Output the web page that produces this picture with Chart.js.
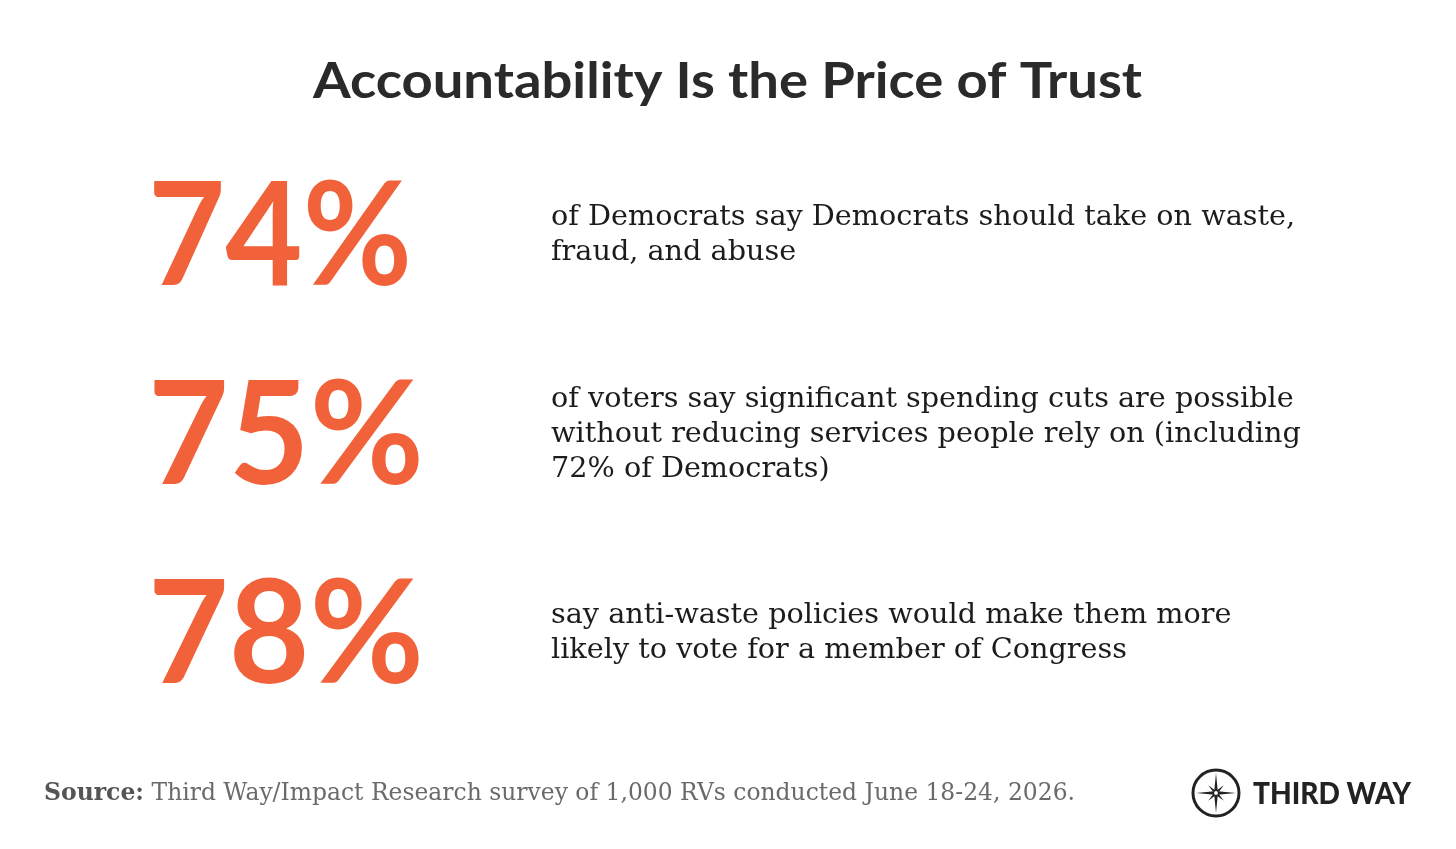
<!DOCTYPE html>
<html>
<head>
<meta charset="utf-8">
<script src="https://cdn.jsdelivr.net/npm/chart.js@4.4.1/dist/chart.umd.min.js"></script>
<style>
  html, body { margin: 0; padding: 0; background: #fff; }
  #wrap { width: 1456px; height: 849px; position: relative; }
</style>
</head>
<body>
<div id="wrap"><canvas id="statChart"></canvas></div>
<script>
// data
const statLabels = ['Democrats: take on waste', 'Voters: cuts possible', 'Anti-waste policies'];
const statValues = [74, 75, 78];
const statText = [
    ['of Democrats say Democrats should take on waste,', 'fraud, and abuse'],
    ['of voters say significant spending cuts are possible', 'without reducing services people rely on (including', '72% of Democrats)'],
    ['say anti-waste policies would make them more', 'likely to vote for a member of Congress']
];
const chartTitle = 'Accountability Is the Price of Trust';
const sourceLabel = 'Source:';
const sourceText = ' Third Way/Impact Research survey of 1,000 RVs conducted June 18-24, 2026.';
const brandName = 'THIRD WAY';

const ORANGE = '#f1623a';

// draw text squeezed/stretched to a target width
function fitText(ctx, str, x, y, width) {
    const w = ctx.measureText(str).width;
    ctx.save();
    ctx.translate(x, y);
    ctx.scale(width / w, 1);
    ctx.fillText(str, 0, 0);
    ctx.restore();
}

const statPlugin = {
    id: 'statPlugin',
    afterDatasetsDraw(chart) {
        const ctx = chart.ctx;
        const meta = chart.getDatasetMeta(0);
        ctx.save();
        ctx.textBaseline = 'alphabetic';
        ctx.textAlign = 'left';

        // title
        ctx.fillStyle = '#2a2a2a';
        ctx.font = 'bold 50px Lato';
        fitText(ctx, chartTitle, 313, 98, 829);

        meta.data.forEach((bar, i) => {
            const cy = bar.y;
            // big percentage
            ctx.fillStyle = ORANGE;
            ctx.font = 'bold 143px Lato';
            const pct = statValues[i] + '%';
            const pctW = i === 0 ? 264 : 276;
            fitText(ctx, pct, 148, cy + 52, pctW);

            // description
            ctx.fillStyle = '#1c1c1c';
            ctx.font = '28.7px "DejaVu Serif"';
            const lines = statText[i];
            const lh = 35;
            const firstBase = cy - (lines.length - 1) * lh / 2 + 10;
            lines.forEach((ln, k) => {
                ctx.fillText(ln, 551, firstBase + k * lh);
            });
        });

        // source line
        ctx.font = 'bold 23.5px "DejaVu Serif"';
        ctx.fillStyle = '#555';
        ctx.fillText(sourceLabel, 44, 800);
        const lw = ctx.measureText(sourceLabel).width;
        ctx.font = '23.5px "DejaVu Serif"';
        ctx.fillStyle = '#6a6a6a';
        const sw = ctx.measureText(sourceText).width;
        fitText(ctx, sourceText, 44 + lw, 800, Math.min(sw, 1075 - 44 - lw));

        // logo
        const lx = 1216, ly = 793;
        ctx.strokeStyle = '#222';
        ctx.fillStyle = '#222';
        ctx.lineWidth = 3;
        ctx.beginPath();
        ctx.arc(lx, ly, 23, 0, Math.PI * 2);
        ctx.stroke();
        // compass star
        const star = (len, wid, rot) => {
            ctx.save();
            ctx.translate(lx, ly);
            ctx.rotate(rot);
            ctx.beginPath();
            for (let q = 0; q < 4; q++) {
                const a = q * Math.PI / 2;
                ctx.lineTo(Math.cos(a) * len, Math.sin(a) * len);
                ctx.lineTo(Math.cos(a + Math.PI / 4) * wid, Math.sin(a + Math.PI / 4) * wid);
            }
            ctx.closePath();
            ctx.fill();
            ctx.restore();
        };
        star(20, 2.5, 0);
        star(11, 2, Math.PI / 4);
        ctx.fillStyle = '#fff';
        ctx.beginPath();
        ctx.arc(lx, ly, 2.5, 0, Math.PI * 2);
        ctx.fill();
        ctx.strokeStyle = '#222';
        ctx.lineWidth = 1.2;
        ctx.stroke();

        ctx.fillStyle = '#222';
        ctx.font = '900 30px Lato';
        fitText(ctx, brandName, 1253, 804, 158);
        ctx.restore();
    }
};

const ctx = document.getElementById('statChart').getContext('2d');
const statChart = new Chart(ctx, {
    type: 'bar',
    data: {
        labels: statLabels,
        datasets: [{
            label: 'Share agreeing',
            data: statValues,
            backgroundColor: 'rgba(0,0,0,0)',
            borderWidth: 0
        }]
    },
    options: {
        indexAxis: 'y',
        responsive: true,
        maintainAspectRatio: false,
        animation: false,
        layout: { padding: { top: 133, bottom: 119, left: 0, right: 0 } },
        scales: {
            x: { display: false, min: 0, max: 100 },
            y: { display: false }
        },
        plugins: {
            legend: { display: false },
            tooltip: { enabled: false },
            title: { display: false }
        }
    },
    plugins: [statPlugin]
});
</script>
</body>
</html>
